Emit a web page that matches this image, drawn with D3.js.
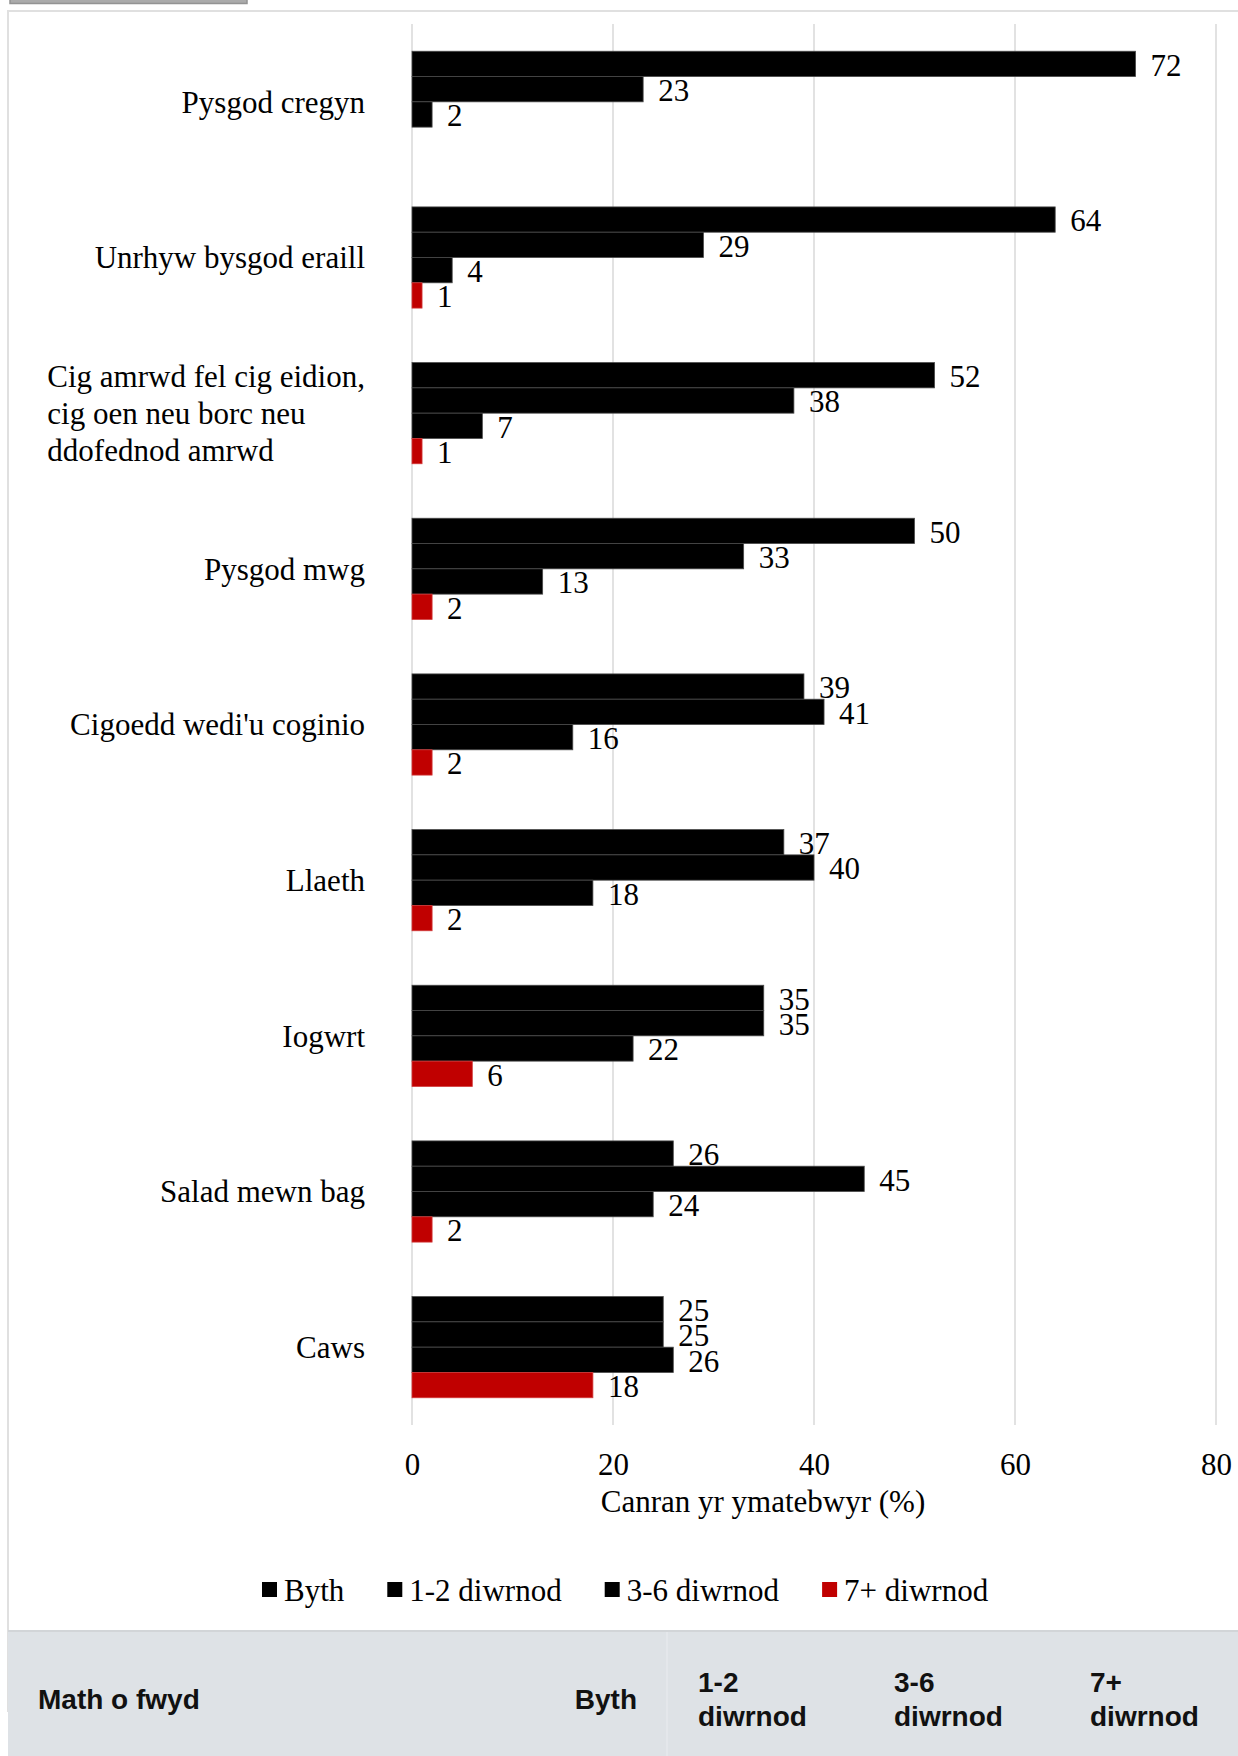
<!DOCTYPE html>
<html>
<head>
<meta charset="utf-8">
<script src="https://cdn.jsdelivr.net/npm/d3@7/dist/d3.min.js"></script>
<style>
  html, body { margin: 0; padding: 0; background: #fff; }
  svg { display: block; }
</style>
</head>
<body>
<svg id="chart" width="1238" height="1756"></svg>
<script>
// ---------- DATA ----------
const categoryLines = [
  ["Pysgod cregyn"],
  ["Unrhyw bysgod eraill"],
  ["Cig amrwd fel cig eidion,", "cig oen neu borc neu", "ddofednod amrwd"],
  ["Pysgod mwg"],
  ["Cigoedd wedi'u coginio"],
  ["Llaeth"],
  ["Iogwrt"],
  ["Salad mewn bag"],
  ["Caws"]
];
const categories = categoryLines.map(l => l.join(" "));
const seriesNames = ["Byth", "1-2 diwrnod", "3-6 diwrnod", "7+ diwrnod"];
const bythValues  = [72, 64, 52, 50, 39, 37, 35, 26, 25];
const d12Values   = [23, 29, 38, 33, 41, 40, 35, 45, 25];
const d36Values   = [2, 4, 7, 13, 16, 18, 22, 24, 26];
const d7Values    = [null, 1, 1, 2, 2, 2, 6, 2, 18];
const xTickValues = [0, 20, 40, 60, 80];
const axisTitle = "Canran yr ymatebwyr (%)";
const tableHeaders = [["Math o fwyd"], ["Byth"], ["1-2", "diwrnod"], ["3-6", "diwrnod"], ["7+", "diwrnod"]];

// ---------- STYLE / LAYOUT ----------
const seriesColors = ["#000000", "#000000", "#000000", "#c00000"];
const seriesStroke = ["#4a4a4a", "#4a4a4a", "#4a4a4a", "#d23a3a"];
const serif = "'Liberation Serif', 'Times New Roman', serif";
const sans = "'Liberation Sans', Arial, sans-serif";
const fs = 31;

const svg = d3.select("#chart");

// top tab and card
svg.append("rect").attr("x", 10).attr("y", -6).attr("width", 237).attr("height", 9.5)
  .attr("fill", "#ababab").attr("stroke", "#939393").attr("stroke-width", 1.5);
svg.append("rect").attr("x", 8).attr("y", 11).attr("width", 1260).attr("height", 1700)
  .attr("fill", "#fff").attr("stroke", "#e0e0e0").attr("stroke-width", 2);

const plot = { left: 412, right: 1216, top: 24, bottom: 1425 };

const x = d3.scaleLinear().domain([0, 80]).range([plot.left, plot.right]);
const y0 = d3.scaleBand().domain(categories).range([plot.top, plot.bottom])
  .paddingInner(0.35).paddingOuter(0.175);
const y1 = d3.scaleBand().domain(seriesNames).range([0, y0.bandwidth()]);

// gridlines
svg.append("g").selectAll("line").data(xTickValues).join("line")
  .attr("x1", d => x(d)).attr("x2", d => x(d))
  .attr("y1", plot.top).attr("y2", plot.bottom)
  .attr("stroke", "#d9d9d9").attr("stroke-width", 1.5);

// x axis tick labels (via d3 axis)
const xAxis = d3.axisBottom(x).tickValues(xTickValues).tickSize(0).tickPadding(0).tickFormat(d3.format("d"));
const gx = svg.append("g").attr("transform", `translate(0,${plot.bottom + 28})`).call(xAxis);
gx.select(".domain").remove();
gx.selectAll("text").attr("font-family", serif).attr("font-size", fs).attr("fill", "#000")
  .attr("dy", "0.71em");

// axis title
svg.append("text").attr("x", 763).attr("y", 1501).attr("dy", "0.35em")
  .attr("text-anchor", "middle").attr("font-family", serif).attr("font-size", fs)
  .text(axisTitle);

// rows
const rows = categories.map((c, i) => ({
  cat: c,
  vals: [bythValues[i], d12Values[i], d36Values[i], d7Values[i]]
}));

const groups = svg.append("g").selectAll("g").data(rows).join("g")
  .attr("transform", d => `translate(0,${y0(d.cat)})`);

// value labels (drawn beneath bars)
groups.selectAll("text.val").data(d => d.vals.map((v, k) => ({ v, k })).filter(o => o.v != null))
  .join("text").attr("class", "val")
  .attr("x", o => x(o.v) + 15)
  .attr("y", o => y1(seriesNames[o.k]) + y1.bandwidth() / 2)
  .attr("dy", "0.38em")
  .attr("font-family", serif).attr("font-size", fs).attr("fill", "#000")
  .text(o => o.v);

// bars
groups.selectAll("rect").data(d => d.vals.map((v, k) => ({ v, k })).filter(o => o.v != null))
  .join("rect")
  .attr("x", x(0))
  .attr("y", o => y1(seriesNames[o.k]))
  .attr("width", o => x(o.v) - x(0))
  .attr("height", y1.bandwidth())
  .attr("fill", o => seriesColors[o.k])
  .attr("stroke", o => seriesStroke[o.k])
  .attr("stroke-width", 0.8);

// category labels
const labelRight = 365;
const lineH = 37;
categoryLines.forEach((lines, i) => {
  const cy = y0(categories[i]) + y0.bandwidth() / 2;
  const t = svg.append("text").attr("font-family", serif).attr("font-size", fs).attr("fill", "#000");
  if (lines.length === 1) {
    t.attr("x", labelRight).attr("y", cy).attr("dy", "0.35em").attr("text-anchor", "end").text(lines[0]);
  } else {
    const spans = lines.map((ln, j) => t.append("tspan")
      .attr("y", cy + (j - (lines.length - 1) / 2) * lineH).attr("dy", "0.35em").text(ln));
    const w = d3.max(spans.map(s => s.node().getComputedTextLength()));
    spans.forEach(s => s.attr("x", labelRight - w));
  }
});

// legend
const legend = svg.append("g");
const legendY = 1590;
let lx = 262;
seriesNames.forEach((name, k) => {
  legend.append("rect").attr("x", lx).attr("y", legendY - 8).attr("width", 15).attr("height", 15)
    .attr("fill", seriesColors[k]);
  const t = legend.append("text").attr("x", lx + 22).attr("y", legendY).attr("dy", "0.35em")
    .attr("font-family", serif).attr("font-size", fs).text(name);
  lx = lx + 22 + t.node().getComputedTextLength() + 43;
});

// table header band
const headY = 1631;
svg.append("rect").attr("x", 8).attr("y", headY).attr("width", 1240).attr("height", 1756 - headY)
  .attr("fill", "#dee2e6");
svg.append("line").attr("x1", 8).attr("x2", 1238).attr("y1", headY).attr("y2", headY)
  .attr("stroke", "#d2d5d8").attr("stroke-width", 2);
svg.append("line").attr("x1", 667).attr("x2", 667).attr("y1", headY + 1).attr("y2", 1756)
  .attr("stroke", "#e6e9ec").attr("stroke-width", 1.5);

const headCenter = 1699;
const headCols = [
  { x: 38, anchor: "start" },
  { x: 637, anchor: "end" },
  { x: 698, anchor: "start" },
  { x: 894, anchor: "start" },
  { x: 1090, anchor: "start" }
];
tableHeaders.forEach((lines, i) => {
  const t = svg.append("text").attr("font-family", sans).attr("font-weight", "bold")
    .attr("font-size", 28).attr("fill", "#111").attr("text-anchor", headCols[i].anchor);
  lines.forEach((ln, j) => {
    t.append("tspan").attr("x", headCols[i].x)
      .attr("y", headCenter + (j - (lines.length - 1) / 2) * 34.5)
      .attr("dy", "0.35em").text(ln);
  });
});
</script>
</body>
</html>
